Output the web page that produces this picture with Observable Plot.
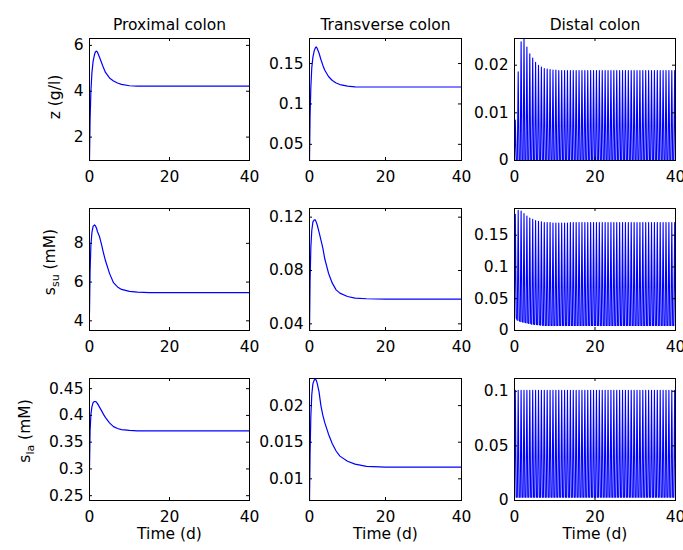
<!DOCTYPE html>
<html><head><meta charset="utf-8">
<script src="https://cdn.jsdelivr.net/npm/d3@7"></script>
<script src="https://cdn.jsdelivr.net/npm/@observablehq/plot@0.6"></script>
<style>
body{margin:0;background:#fff;}
#fig{position:relative;width:683px;height:550px;background:#fff;}
#fig svg{position:absolute;left:0;top:0;}
</style></head><body><div id="fig"></div>
<script>
// ---------- data ----------
const columnTitles = ["Proximal colon", "Transverse colon", "Distal colon"];
const rowLabels = ["z (g/l)", "s_su (mM)", "s_la (mM)"];
const xTicks = [0, 20, 40];
const xLabel = "Time (d)";

// smooth series (proximal & transverse)
const tSmooth = [0, 0.15, 0.35, 0.6, 0.9, 1.25, 1.5, 1.75, 2, 2.5, 3, 3.5, 4, 5, 6, 7, 8, 10, 12, 15, 20, 30, 40];
const proxZ  = [1.0, 2.8, 4.0, 4.8, 5.3, 5.6, 5.72, 5.75, 5.7, 5.48, 5.25, 5.02, 4.82, 4.58, 4.45, 4.36, 4.3, 4.24, 4.22, 4.22, 4.22, 4.22, 4.22];
const transZ = [0.03, 0.085, 0.12, 0.145, 0.158, 0.166, 0.169, 0.1705, 0.169, 0.163, 0.155, 0.148, 0.142, 0.134, 0.129, 0.126, 0.124, 0.122, 0.1212, 0.121, 0.121, 0.121, 0.121];
const proxSu = [4.4, 6.6, 7.9, 8.55, 8.88, 8.95, 8.9, 8.78, 8.6, 8.35, 7.95, 7.5, 7.1, 6.45, 5.97, 5.75, 5.62, 5.52, 5.48, 5.46, 5.46, 5.46, 5.46];
const transSu = [0.035, 0.072, 0.097, 0.11, 0.1165, 0.118, 0.118, 0.1165, 0.1145, 0.109, 0.103, 0.097, 0.089, 0.078, 0.0705, 0.0655, 0.063, 0.0605, 0.0593, 0.0588, 0.0586, 0.0586, 0.0586];
const proxLa = [0.3, 0.372, 0.402, 0.416, 0.424, 0.426, 0.426, 0.4245, 0.422, 0.4155, 0.409, 0.402, 0.396, 0.386, 0.379, 0.3755, 0.3735, 0.372, 0.3713, 0.371, 0.371, 0.371, 0.371];
const transLa = [0.007, 0.0135, 0.0185, 0.0215, 0.023, 0.0235, 0.0236, 0.0235, 0.0231, 0.0219, 0.0200, 0.0187, 0.0177, 0.0161, 0.0148, 0.0138, 0.0131, 0.0124, 0.012, 0.0117, 0.0116, 0.0116, 0.0116];

// oscillating series (distal): times of each spike, peak and trough values
const distalPeakT = [0.2, 0.92, 1.64, 2.36, 3.08, 3.8, 4.52, 5.24, 5.96, 6.68, 7.4, 8.12, 8.84, 9.56, 10.28, 11, 11.72, 12.44, 13.16, 13.88,
  14.6, 15.32, 16.04, 16.76, 17.48, 18.2, 18.92, 19.64, 20.36, 21.08, 21.8, 22.52, 23.24, 23.96, 24.68, 25.4, 26.12, 26.84, 27.56, 28.28,
  29, 29.72, 30.44, 31.16, 31.88, 32.6, 33.32, 34.04, 34.76, 35.48, 36.2, 36.92, 37.64, 38.36, 39.08, 39.8];
const distalZPeak = [0.0085, 0.0186, 0.0249, 0.0256, 0.0238, 0.0224, 0.0215, 0.0206, 0.0200, 0.0196, 0.0193, 0.0192, 0.0191, 0.0190, 0.0190,
  0.0189, 0.0189, 0.0189, 0.0189, 0.0189, 0.0189, 0.0189, 0.0189, 0.0189, 0.0189, 0.0189, 0.0189, 0.0189, 0.0189, 0.0189,
  0.0189, 0.0189, 0.0189, 0.0189, 0.0189, 0.0189, 0.0189, 0.0189, 0.0189, 0.0189, 0.0189, 0.0189, 0.0189, 0.0189, 0.0189,
  0.0189, 0.0189, 0.0189, 0.0189, 0.0189, 0.0189, 0.0189, 0.0189, 0.0189, 0.0189, 0.0189];
const distalZLow = [0, 0, 0, 0, 0, 0, 0, 0, 0, 0, 0, 0, 0, 0, 0, 0, 0, 0, 0, 0, 0, 0, 0, 0, 0, 0, 0, 0,
  0, 0, 0, 0, 0, 0, 0, 0, 0, 0, 0, 0, 0, 0, 0, 0, 0, 0, 0, 0, 0, 0, 0, 0, 0, 0, 0, 0];
const distalSuPeak = [0.183, 0.189, 0.188, 0.184, 0.180, 0.177, 0.175, 0.173, 0.172, 0.171, 0.170,
  0.170, 0.170, 0.169, 0.169, 0.169, 0.169, 0.169, 0.169, 0.170, 0.170, 0.170, 0.170, 0.170, 0.170, 0.170, 0.170, 0.170,
  0.170, 0.170, 0.170, 0.170, 0.170, 0.170, 0.170, 0.170, 0.170, 0.170, 0.170, 0.170, 0.170, 0.170, 0.170, 0.170,
  0.170, 0.170, 0.170, 0.170, 0.170, 0.170, 0.170, 0.170, 0.170, 0.170, 0.170, 0.170];
const distalSuLow = [0.020, 0.016, 0.014, 0.013, 0.012, 0.011, 0.010, 0.0095, 0.009, 0.0085,
  0.008, 0.008, 0.008, 0.008, 0.008, 0.008, 0.008, 0.008, 0.008, 0.008, 0.008, 0.008, 0.008, 0.008, 0.008, 0.008, 0.008,
  0.008, 0.008, 0.008, 0.008, 0.008, 0.008, 0.008, 0.008, 0.008, 0.008, 0.008, 0.008, 0.008, 0.008, 0.008, 0.008,
  0.008, 0.008, 0.008, 0.008, 0.008, 0.008, 0.008, 0.008, 0.008, 0.008, 0.008, 0.008, 0.008];
const distalLaPeak = [0.101, 0.101, 0.101, 0.101, 0.101, 0.101, 0.101, 0.101, 0.101, 0.101, 0.101, 0.101, 0.101, 0.101,
  0.101, 0.101, 0.101, 0.101, 0.101, 0.101, 0.101, 0.101, 0.101, 0.101, 0.101, 0.101, 0.101, 0.101,
  0.101, 0.101, 0.101, 0.101, 0.101, 0.101, 0.101, 0.101, 0.101, 0.101, 0.101, 0.101, 0.101, 0.101,
  0.101, 0.101, 0.101, 0.101, 0.101, 0.101, 0.101, 0.101, 0.101, 0.101, 0.101, 0.101, 0.101, 0.101];
const distalLaLow = [0.003, 0.003, 0.003, 0.003, 0.003, 0.003, 0.003, 0.003, 0.003, 0.003, 0.003, 0.003, 0.003, 0.003,
  0.003, 0.003, 0.003, 0.003, 0.003, 0.003, 0.003, 0.003, 0.003, 0.003, 0.003, 0.003, 0.003, 0.003,
  0.003, 0.003, 0.003, 0.003, 0.003, 0.003, 0.003, 0.003, 0.003, 0.003, 0.003, 0.003, 0.003, 0.003,
  0.003, 0.003, 0.003, 0.003, 0.003, 0.003, 0.003, 0.003, 0.003, 0.003, 0.003, 0.003, 0.003, 0.003];

// y axis domains and ticks per panel [row][col]
const yDomains = [
  [[0.98, 6.3], [0.030, 0.181], [0, 0.0256]],
  [[3.5, 9.8], [0.035, 0.1265], [0, 0.192]],
  [[0.241, 0.469], [0.00704, 0.0237], [0, 0.1117]]
];
const yTickVals = [
  [[2, 4, 6], [0.05, 0.1, 0.15], [0, 0.01, 0.02]],
  [[4, 6, 8], [0.04, 0.08, 0.12], [0, 0.05, 0.1, 0.15]],
  [[0.25, 0.3, 0.35, 0.4, 0.45], [0.01, 0.015, 0.02], [0, 0.05, 0.1]]
];

// ---------- build ----------
const smooth = vals => tSmooth.map((t, i) => ({t, v: vals[i]}));
const spikes = (peaks, lows) => distalPeakT.flatMap((tp, i) => [
  {t: tp - 0.22, v: lows[i]}, {t: tp, v: peaks[i]}, {t: tp + 0.22, v: lows[i]}
]);
const seriesGrid = [
  [smooth(proxZ), smooth(transZ), spikes(distalZPeak, distalZLow)],
  [smooth(proxSu), smooth(transSu), spikes(distalSuPeak, distalSuLow)],
  [smooth(proxLa), smooth(transLa), spikes(distalLaPeak, distalLaLow)]
];

const W = 683, H = 550;
const colX = [[89, 249], [309, 461], [514, 675]];
const rowY = [[38, 160], [208, 330], [378, 500]];
const tickLen = 3;
const FONT = "DejaVu Sans";
const fig = document.getElementById("fig");

for (let r = 0; r < 3; r++) {
  for (let c = 0; c < 3; c++) {
    const [left, right] = colX[c];
    const [top, bottom] = rowY[r];
    const fw = right - left, fh = bottom - top;
    const yTicks = yTickVals[r][c];
    const marks = [
      Plot.line(seriesGrid[r][c], {x: "t", y: "v", stroke: "#0000ff", strokeWidth: c === 2 ? 1.1 : 1.2, clip: true}),
      Plot.frame({stroke: "black", strokeWidth: 1}),
      Plot.tickX(xTicks, {x: d => d, insetTop: fh - tickLen, stroke: "black"}),
      Plot.tickX(xTicks, {x: d => d, insetBottom: fh - tickLen, stroke: "black"}),
      Plot.tickY(yTicks, {y: d => d, insetLeft: fw - tickLen, stroke: "black"}),
      Plot.tickY(yTicks, {y: d => d, insetRight: fw - tickLen, stroke: "black"}),
      Plot.axisX({ticks: xTicks, tickSize: 0, tickPadding: 10, tickFormat: d => `${d}`, label: null, fill: "black"}),
      Plot.axisY({ticks: yTicks, tickSize: 0, tickPadding: 6, tickFormat: d => `${d}`, label: null, fill: "black"})
    ];
    if (r === 0) marks.push(Plot.text([columnTitles[c]], {text: d => d, frameAnchor: "top", dy: -20, fill: "black"}));
    if (r === 2) marks.push(Plot.text([xLabel], {text: d => d, frameAnchor: "bottom", dy: 38, fill: "black"}));
    const svg = Plot.plot({
      width: W, height: H,
      marginLeft: left, marginRight: W - right, marginTop: top, marginBottom: H - bottom,
      x: {domain: [0, 40]},
      y: {domain: yDomains[r][c]},
      style: {background: "transparent", fontFamily: FONT, fontSize: "15.5px", color: "black", overflow: "visible"},
      marks
    });
    fig.appendChild(svg);
  }
}

// y labels (with subscripts) as real text
const ov = d3.create("svg").attr("width", W).attr("height", H)
  .style("font-family", FONT).style("font-size", "15.5px");
const yLabPos = [[60, 97], [55, 262], [30, 431]];
rowLabels.forEach((lab, i) => {
  const [x, y] = yLabPos[i];
  const t = ov.append("text").attr("transform", `translate(${x},${y}) rotate(-90)`)
    .attr("text-anchor", "middle").attr("fill", "black");
  const m = lab.match(/^(\w)_(\w+)(.*)$/);
  if (m) {
    t.append("tspan").text(m[1]);
    t.append("tspan").attr("dy", 4).attr("font-size", "11px").text(m[2]);
    t.append("tspan").attr("dy", -4).text(m[3]);
  } else {
    t.text(lab);
  }
});
fig.appendChild(ov.node());
</script></body></html>
